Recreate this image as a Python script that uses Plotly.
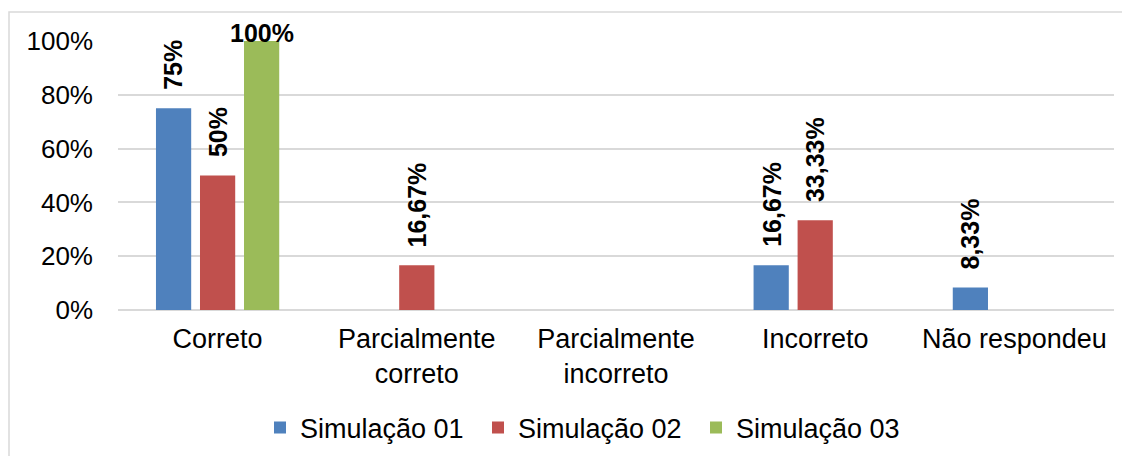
import plotly.graph_objects as go

categories = ["Correto", "Parcialmente<br>correto", "Parcialmente<br>incorreto", "Incorreto", "Não respondeu"]
series_names = ["Simulação 01", "Simulação 02", "Simulação 03"]
sim01 = [75, 0, 0, 16.67, 8.33]
sim02 = [50, 16.67, 0, 33.33, 0]
sim03 = [100, 0, 0, 0, 0]
y_ticks = [0, 20, 40, 60, 80, 100]
y_tick_labels = ["0%", "20%", "40%", "60%", "80%", "100%"]

colors = ["#4F81BD", "#C0504D", "#9BBB59"]
series = [sim01, sim02, sim03]

FONT = "Arial, Liberation Sans, sans-serif"

fig = go.Figure()
for name, vals, col in zip(series_names, series, colors):
    fig.add_trace(go.Bar(name=name, x=categories, y=vals, marker=dict(color=col, line=dict(width=0))))

# label styling per series (Excel placed the 100% label horizontally)
label_style = [
    dict(textangle=-90, yanchor="bottom", yshift=16, xshift=-44),
    dict(textangle=-90, yanchor="bottom", yshift=16, xshift=0),
    dict(textangle=0, yanchor="middle", yshift=8, xshift=44),
]
for vals, st in zip(series, label_style):
    for cat, v in zip(categories, vals):
        if v > 0:
            txt = f"{v:g}".replace(".", ",") + "%"
            fig.add_annotation(x=cat, y=v, xref="x", yref="y", text=f"<b>{txt}</b>",
                               showarrow=False, xanchor="center",
                               font=dict(family=FONT, size=25, color="#000000"), **st)

# page has an 8px body margin, so the figure is offset by (8, 8)
OFF = 8
W, H = 1130, 456
plot_l, plot_t = 118 - OFF, 41 - OFF
pw, ph = 996, 269
plot_r = W - plot_l - pw
plot_b = H - plot_t - ph

# chart-area border (partially cropped in reference)
fig.add_shape(type="rect", xref="paper", yref="paper",
              x0=(9 - 118) / pw, x1=1.2, y0=-1.0, y1=(310 - 12) / ph,
              line=dict(color="#D9D9D9", width=1.5), fillcolor="rgba(0,0,0,0)", layer="below")

fig.update_layout(
    width=W, height=H,
    margin=dict(l=plot_l, r=plot_r, t=plot_t, b=plot_b, pad=0, autoexpand=False),
    paper_bgcolor="white", plot_bgcolor="white",
    barmode="group", bargap=0.337, bargroupgap=0.2,
    font=dict(family=FONT, size=27, color="#000000"),
    showlegend=True,
    legend=dict(orientation="h", x=(276 - 118 - 16) / pw, xanchor="left", y=(310 - 428) / ph, yanchor="middle",
                font=dict(family=FONT, size=27, color="#000000"), bgcolor="rgba(0,0,0,0)",
                itemwidth=30, traceorder="normal", entrywidth=173, entrywidthmode="pixels"),
)
fig.update_yaxes(range=[0, 100], tickvals=y_ticks, ticktext=y_tick_labels, showgrid=True,
                 gridcolor="#D9D9D9", gridwidth=1.5, zeroline=True, zerolinecolor="#D9D9D9",
                 zerolinewidth=1.5, showline=False, ticks="", ticklabelstandoff=24, automargin=False,
                 tickfont=dict(family=FONT, size=26, color="#000000"))
fig.update_xaxes(showgrid=False, showline=False, ticks="", ticklabelstandoff=10, automargin=False,
                 tickfont=dict(family=FONT, size=27, color="#000000"))

fig.write_html("out.html")
